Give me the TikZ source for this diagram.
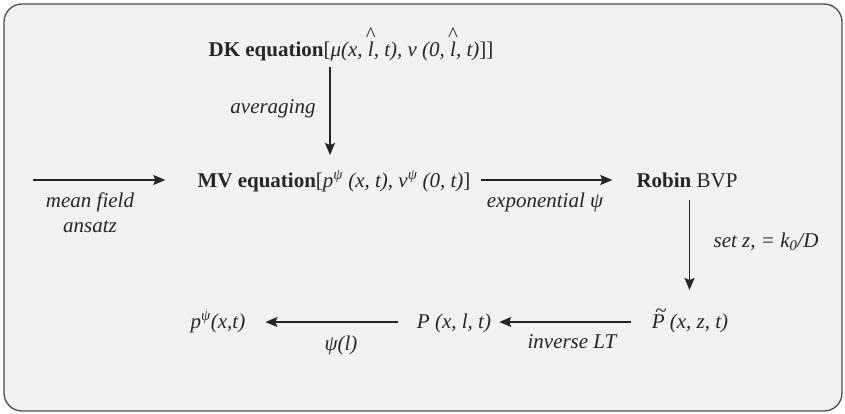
\documentclass[tikz,border=0pt]{standalone}
\usepackage{fontspec}
\setmainfont{Liberation Serif}
\usetikzlibrary{arrows.meta}
\definecolor{bg}{HTML}{F2F2F2}
\definecolor{ink}{HTML}{262626}
\definecolor{framecol}{HTML}{4D4D4D}
\newcommand{\hatl}{\makebox[0pt][l]{\makebox[0.278em]{\raisebox{0.72em}{\upshape\textasciicircum}}}l}
\newcommand{\tildeP}{\makebox[0pt][l]{\hspace{0.12em}\makebox[0.61em]{\raisebox{0.48em}{\textasciitilde}}}P}
\tikzset{
  txt/.style={inner sep=0pt, anchor=base, text=ink, font=\fontsize{21}{25}\selectfont},
  lbl/.style={txt, font=\fontsize{21}{25}\selectfont\itshape},
  arr/.style={draw=ink, line width=1.3pt, -{Stealth[length=12pt,width=10pt,inset=2pt]}},
}
\begin{document}
\begin{tikzpicture}[x=1pt,y=-1pt]
\useasboundingbox (0,0) rectangle (845,414);
\draw[framecol, fill=bg, line width=1.3pt, rounded corners=18pt] (4,4) rectangle (842,411);

% nodes
\node[txt] (dk) at (351,57) {\textbf{DK equation}[\textit{μ(x, \hatl, t), v (0, \hatl, t)}]]};
\node[txt] (mv) at (334,187) {\textbf{MV equation}[\textit{p\textsuperscript{ψ} (x, t), v\textsuperscript{ψ} (0, t)}]};
\node[txt] (robin) at (687,187) {\textbf{Robin} BVP};
\node[lbl] (pt) at (690,328) {\tildeP\ (x, z, t)};
\node[lbl] (P) at (454,328) {P (x, l, t)};
\node[lbl] (p) at (218,328) {p\textsuperscript{ψ}(x,t)};

% labels
\node[lbl] (lavg) at (273,114) {averaging};
\node[lbl] (lmf1) at (90,207) {mean field};
\node[lbl] (lmf2) at (90,232) {ansatz};
\node[lbl] (lexp) at (545,207) {exponential ψ};
\node[lbl] (lset) at (766,247) {set z, = k\textsubscript{0}/D};
\node[lbl] (lpsi) at (341,350) {ψ(l)};
\node[lbl] (linv) at (572,348) {inverse LT};

% connectors
\coordinate (in) at (33,180);
\draw[arr] (in) -- ([xshift=-32pt,yshift=7pt]mv.base west);
\draw[arr] ([xshift=10pt,yshift=7pt]mv.base east) -- ([xshift=-24pt,yshift=7pt]robin.base west);
\path ([xshift=-21pt,yshift=-10pt]dk.base) coordinate (dkb);
\path ([yshift=32pt]mv.base) coordinate (mvt);
\draw[arr] (dkb) -- (dkb |- mvt);
\path ([xshift=2.5pt,yshift=-13pt]robin.base) coordinate (rb);
\path ([yshift=38pt]pt.base) coordinate (ptt);
\draw[arr] (rb) -- (rb |- ptt);
\draw[arr] ([xshift=-21pt,yshift=6pt]pt.base west) -- ([xshift=8pt,yshift=6pt]P.base east);
\draw[arr] ([xshift=-19pt,yshift=6pt]P.base west) -- ([xshift=20pt,yshift=6pt]p.base east);
\end{tikzpicture}
\end{document}
